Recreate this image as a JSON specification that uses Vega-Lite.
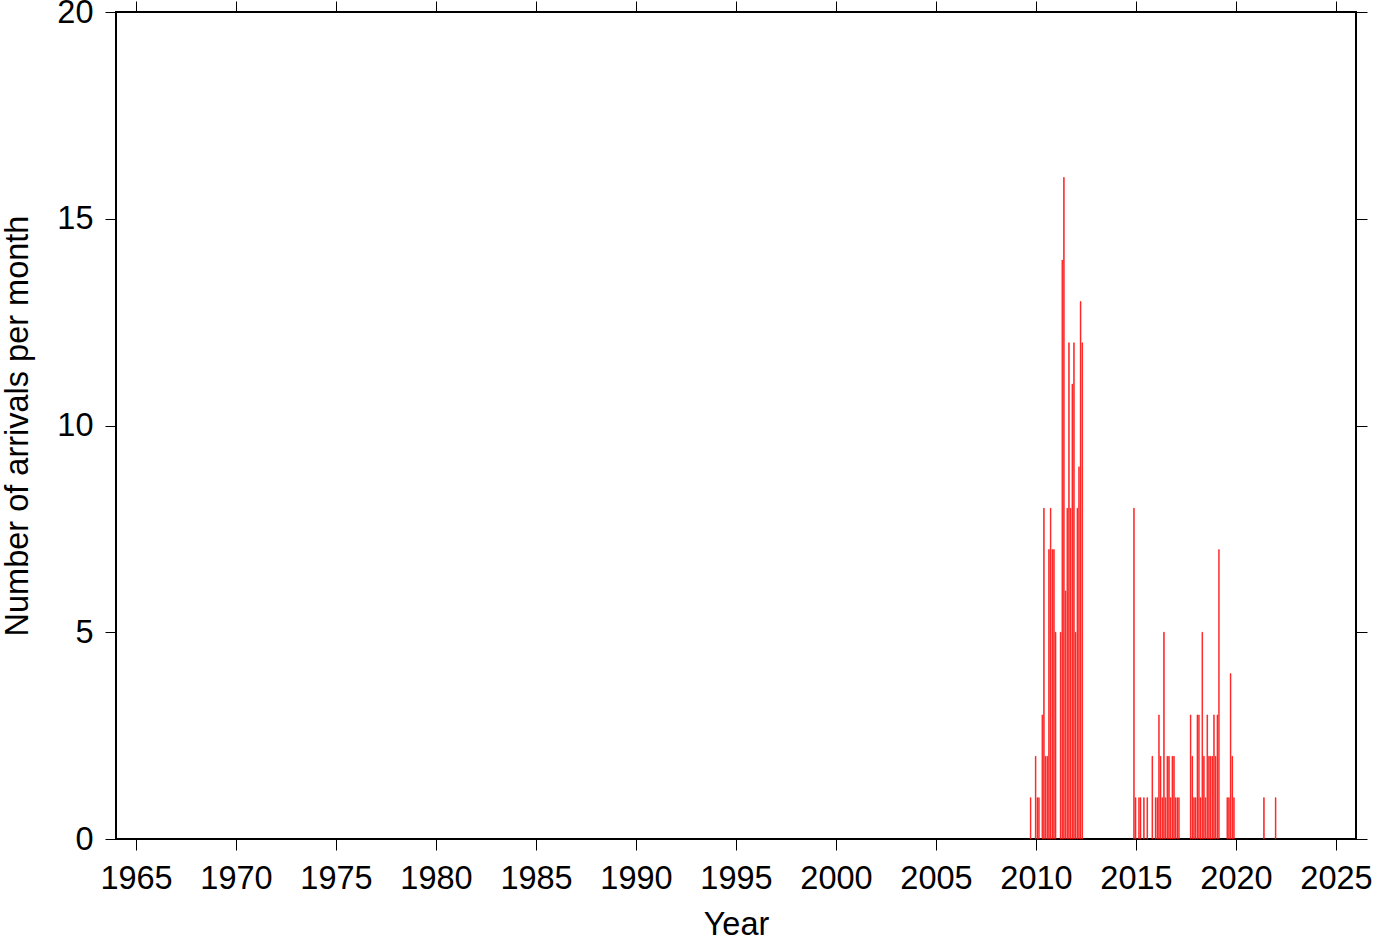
{
  "$schema": "https://vega.github.io/schema/vega-lite/v6.json",
  "width": 1240,
  "height": 827,
  "autosize": "none",
  "padding": {"left": 116, "top": 12, "right": 26, "bottom": 103},
  "background": "white",
  "config": {
    "font": "Liberation Sans",
    "view": {"stroke": "black", "strokeWidth": 2},
    "axis": {
      "grid": false,
      "domain": false,
      "tickColor": "black",
      "tickWidth": 1,
      "tickSize": 11,
      "labelFont": "Liberation Sans",
      "labelFontSize": 32.5,
      "labelColor": "black",
      "titleFont": "Liberation Sans",
      "titleFontSize": 32.5,
      "titleFontWeight": "normal",
      "titleColor": "black"
    }
  },
  "data": {
    "values": [
      {"month": "2009-09-01", "n": 1},
      {"month": "2009-12-01", "n": 2},
      {"month": "2010-01-01", "n": 1},
      {"month": "2010-02-01", "n": 1},
      {"month": "2010-04-01", "n": 3},
      {"month": "2010-05-01", "n": 8},
      {"month": "2010-06-01", "n": 2},
      {"month": "2010-07-01", "n": 2},
      {"month": "2010-08-01", "n": 7},
      {"month": "2010-09-01", "n": 8},
      {"month": "2010-10-01", "n": 7},
      {"month": "2010-11-01", "n": 7},
      {"month": "2010-12-01", "n": 5},
      {"month": "2011-03-01", "n": 5},
      {"month": "2011-04-01", "n": 14},
      {"month": "2011-05-01", "n": 16},
      {"month": "2011-06-01", "n": 6},
      {"month": "2011-07-01", "n": 8},
      {"month": "2011-08-01", "n": 12},
      {"month": "2011-09-01", "n": 8},
      {"month": "2011-10-01", "n": 11},
      {"month": "2011-11-01", "n": 12},
      {"month": "2011-12-01", "n": 5},
      {"month": "2012-01-01", "n": 8},
      {"month": "2012-02-01", "n": 9},
      {"month": "2012-03-01", "n": 13},
      {"month": "2012-04-01", "n": 12},
      {"month": "2014-11-01", "n": 8},
      {"month": "2014-12-01", "n": 1},
      {"month": "2015-02-01", "n": 1},
      {"month": "2015-03-01", "n": 1},
      {"month": "2015-05-01", "n": 1},
      {"month": "2015-07-01", "n": 1},
      {"month": "2015-10-01", "n": 2},
      {"month": "2015-12-01", "n": 1},
      {"month": "2016-01-01", "n": 1},
      {"month": "2016-02-01", "n": 3},
      {"month": "2016-03-01", "n": 2},
      {"month": "2016-04-01", "n": 1},
      {"month": "2016-05-01", "n": 5},
      {"month": "2016-06-01", "n": 1},
      {"month": "2016-07-01", "n": 2},
      {"month": "2016-08-01", "n": 2},
      {"month": "2016-09-01", "n": 1},
      {"month": "2016-10-01", "n": 2},
      {"month": "2016-11-01", "n": 2},
      {"month": "2016-12-01", "n": 1},
      {"month": "2017-01-01", "n": 1},
      {"month": "2017-02-01", "n": 1},
      {"month": "2017-09-01", "n": 3},
      {"month": "2017-10-01", "n": 2},
      {"month": "2017-11-01", "n": 1},
      {"month": "2017-12-01", "n": 1},
      {"month": "2018-01-01", "n": 3},
      {"month": "2018-02-01", "n": 3},
      {"month": "2018-03-01", "n": 1},
      {"month": "2018-04-01", "n": 5},
      {"month": "2018-05-01", "n": 2},
      {"month": "2018-06-01", "n": 1},
      {"month": "2018-07-01", "n": 3},
      {"month": "2018-08-01", "n": 2},
      {"month": "2018-09-01", "n": 2},
      {"month": "2018-10-01", "n": 2},
      {"month": "2018-11-01", "n": 3},
      {"month": "2018-12-01", "n": 2},
      {"month": "2019-01-01", "n": 3},
      {"month": "2019-02-01", "n": 7},
      {"month": "2019-07-01", "n": 1},
      {"month": "2019-08-01", "n": 1},
      {"month": "2019-09-01", "n": 4},
      {"month": "2019-10-01", "n": 2},
      {"month": "2019-11-01", "n": 1},
      {"month": "2021-05-01", "n": 1},
      {"month": "2021-12-01", "n": 1}
    ]
  },
  "resolve": {"axis": {"x": "independent", "y": "independent"}},
  "layer": [
    {
      "mark": {"type": "bar", "color": "#ff0000", "stroke": "#ff1010", "strokeWidth": 0.6},
      "encoding": {
        "x": {
          "field": "month",
          "type": "temporal",
          "timeUnit": "utcyearmonth",
          "scale": {"type": "utc", "domain": [{"year": 1964, "utc": true}, {"year": 2026, "utc": true}]},
          "axis": {
            "orient": "bottom",
            "title": "Year",
            "titlePadding": 14,
            "labelPadding": 12,
            "format": "%Y",
            "values": [
              {"year": 1965, "utc": true}, {"year": 1970, "utc": true}, {"year": 1975, "utc": true},
              {"year": 1980, "utc": true}, {"year": 1985, "utc": true}, {"year": 1990, "utc": true},
              {"year": 1995, "utc": true}, {"year": 2000, "utc": true}, {"year": 2005, "utc": true},
              {"year": 2010, "utc": true}, {"year": 2015, "utc": true}, {"year": 2020, "utc": true},
              {"year": 2025, "utc": true}
            ],
            "labelOverlap": false,
            "labelFlush": false
          }
        },
        "y": {
          "field": "n",
          "type": "quantitative",
          "scale": {"domain": [0, 20], "nice": false},
          "axis": {
            "orient": "left",
            "title": "Number of arrivals per month",
            "titlePadding": 22,
            "labelPadding": 12,
            "values": [0, 5, 10, 15, 20],
            "labelFlush": false,
            "labelOverlap": false
          }
        }
      }
    },
    {
      "mark": {"type": "bar", "opacity": 0},
      "encoding": {
        "x": {
          "field": "month",
          "type": "temporal",
          "timeUnit": "utcyearmonth",
          "axis": {
            "orient": "top",
            "title": null,
            "labels": false,
            "values": [
              {"year": 1965, "utc": true}, {"year": 1970, "utc": true}, {"year": 1975, "utc": true},
              {"year": 1980, "utc": true}, {"year": 1985, "utc": true}, {"year": 1990, "utc": true},
              {"year": 1995, "utc": true}, {"year": 2000, "utc": true}, {"year": 2005, "utc": true},
              {"year": 2010, "utc": true}, {"year": 2015, "utc": true}, {"year": 2020, "utc": true},
              {"year": 2025, "utc": true}
            ]
          }
        },
        "y": {
          "field": "n",
          "type": "quantitative",
          "axis": {"orient": "right", "title": null, "labels": false, "values": [0, 5, 10, 15, 20]}
        }
      }
    }
  ]
}
